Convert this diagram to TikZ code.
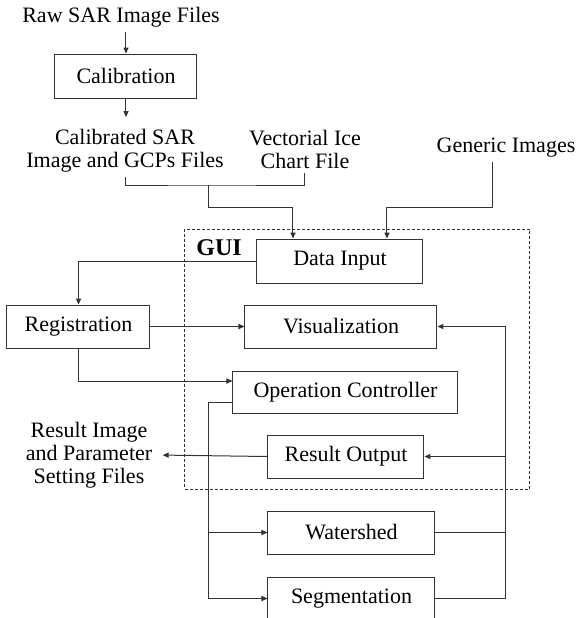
\documentclass[tikz,border=0pt]{standalone}
\usepackage{fontspec}
\setmainfont{Liberation Serif}
\usetikzlibrary{arrows.meta,calc}
\begin{document}
\begin{tikzpicture}[x=0.5pt, y=-0.5pt, line width=0.5pt, draw=black!80,
  box/.style={draw, line width=0.5pt, inner sep=0pt, minimum height=21.5pt, font=\fontsize{11}{11.5}\selectfont},
  txt/.style={inner sep=2pt, align=center, font=\fontsize{11}{11.5}\selectfont},
  >={Triangle[length=3pt,width=2.6pt]}]
\useasboundingbox (0,0) rectangle (579,618);
\node[txt] (raw) at (121,17){Raw SAR Image Files};
\node[box, minimum width=71pt, minimum height=22pt] (calib) at (126,76){Calibration};
\node[txt] (calsar) at (125,151){Calibrated SAR\\Image and GCPs Files};
\node[txt] (vect) at (305,149){Vectorial Ice\\Chart File};
\node[txt] (gen) at (506,148){Generic Images};
\node[draw, dash pattern=on 1.5pt off 1pt, minimum width=172.5pt, minimum height=130pt] (gui) at (357.5,359){};
\node[font=\fontsize{12}{12}\selectfont\bfseries] (guilbl) at (219,248){GUI};
\node[box, minimum width=83pt, minimum height=22pt] (datain) at (340,261){Data Input};
\node[box, minimum width=71.5pt] (reg) at (78.5,326.5){Registration};
\node[box, minimum width=96pt] (vis) at (341,326.5){Visualization};
\node[box, minimum width=112.5pt, minimum height=21pt] (opc) at (345.5,392){Operation Controller};
\node[box, minimum width=78pt] (resout) at (346,456.5){Result Output};
\node[txt] (resfile) at (89,455){Result Image\\and Parameter\\Setting Files};
\node[box, minimum width=83.5pt] (water) at (351.5,532.5){Watershed};
\node[box, minimum width=83.5pt] (seg) at (351.5,598.5){Segmentation};
\coordinate (bus) at (209,185);
\coordinate (bend1) at (293,207);
\coordinate (bend2) at (387,207);
\coordinate (lbus) at (209,0);
\coordinate (rbus) at (506,0);
\draw[->](raw.south -| calib) -- (calib.north);
\draw[->](calib.south) -- ($(calib.south |- calsar.north)+(0,4pt)$);
\draw[](calsar.south -| calib) |- (bus) -| (vect.south);
\draw[->](bus) |- (bend1) -- (bend1 |- datain.north);
\draw[->]([xshift=-6.5pt]gen.south) |- (bend2) -- (bend2 |- datain.north);
\draw[->](datain.west) -| (reg.north);
\draw[->](reg.east) -- (vis.west);
\draw[->](reg.south) |- ([yshift=5.5pt]opc.west);
\draw[->]([yshift=-5pt]opc.west) -| (lbus |- seg.west) -- (seg.west);
\draw[->](lbus |- water.west) -- (water.west);
\draw[->](seg.east) -| (rbus |- vis.east) -- (vis.east);
\draw[](water.east) -- (rbus |- water.east);
\draw[->](rbus |- resout.east) -- (resout.east);
\draw[->, shorten >=3pt](resout.west) -- (resfile.east);
\end{tikzpicture}
\end{document}
